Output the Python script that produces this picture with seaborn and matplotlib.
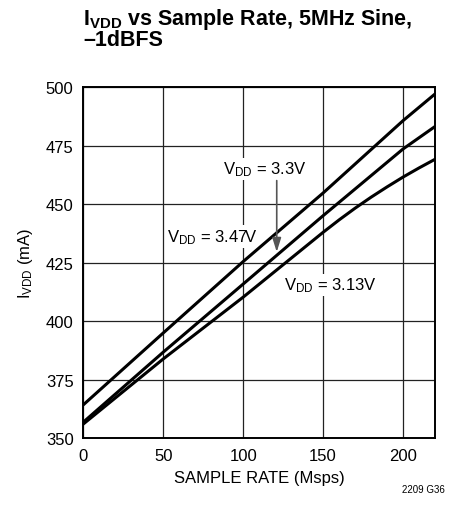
import pandas as pd
import seaborn as sns
import matplotlib
matplotlib.use("Agg")
import matplotlib.pyplot as plt

# 读图估计的数据
rate_347 = [0, 50, 100, 150, 200, 220]
ivdd_347 = [364.3, 395.0, 425.5, 454.8, 485.7, 497.1]

rate_330 = [0, 50, 100, 150, 200, 220]
ivdd_330 = [356.9, 386.8, 415.9, 445.1, 473.6, 483.2]

rate_313 = [0, 50, 100, 150, 160, 170, 180, 190, 200, 210, 220]
ivdd_313 = [356.1, 383.9, 410.3, 438.0, 443.3, 448.3, 453.0, 457.4, 461.6, 465.5, 469.2]

x_ticks = [0, 50, 100, 150, 200]
y_ticks = [350, 375, 400, 425, 450, 475, 500]

df = pd.concat([
    pd.DataFrame({"rate": rate_347, "ivdd": ivdd_347, "vdd": "3.47V"}),
    pd.DataFrame({"rate": rate_330, "ivdd": ivdd_330, "vdd": "3.3V"}),
    pd.DataFrame({"rate": rate_313, "ivdd": ivdd_313, "vdd": "3.13V"}),
])

sns.set_theme(style="white")
plt.rcParams['font.family'] = ['Liberation Sans', 'DejaVu Sans']
plt.rcParams['mathtext.fontset'] = 'custom'
plt.rcParams['mathtext.rm'] = 'Liberation Sans'
plt.rcParams['mathtext.it'] = 'Liberation Sans'
plt.rcParams['mathtext.bf'] = 'Liberation Sans:bold'
plt.rcParams['mathtext.default'] = 'regular'
plt.rcParams['text.color'] = 'black'

fig = plt.figure(figsize=(4.58, 5.10), dpi=100)
ax = fig.add_axes([83.3 / 458, 1 - 439.3 / 510, (435 - 83.3) / 458, (439.3 - 88.2) / 510])

sns.lineplot(data=df, x="rate", y="ivdd", hue="vdd", sort=True,
             palette=["black", "black", "black"], linewidth=2.2, legend=False, ax=ax)

ax.set_xlim(0, 220)
ax.set_ylim(350, 500)
ax.set_xticks(x_ticks)
ax.set_yticks(y_ticks)
ax.grid(True, color="#222222", linewidth=0.9, zorder=0.5)
ax.set_axisbelow(True)
for s in ax.spines.values():
    s.set_color("black")
    s.set_linewidth(1.4)
ax.tick_params(length=0, labelsize=12, pad=7, colors="black")

ax.set_xlabel("SAMPLE RATE (Msps)", fontsize=12, color="black", labelpad=5)
ax.set_ylabel("$I_{VDD}$ (mA)", fontsize=12, color="black", labelpad=8)

# 标注
box = dict(facecolor="white", edgecolor="none", pad=1.5)
ax.text(113.4, 465.1, "$V_{DD}$ = 3.3V", fontsize=12, ha="center", va="center", bbox=box, zorder=1.5)
ax.text(80.7, 436.3, "$V_{DD}$ = 3.47V", fontsize=12, ha="center", va="center", bbox=box, zorder=1.5)
ax.text(154.7, 415.5, "$V_{DD}$ = 3.13V", fontsize=12, ha="center", va="center", bbox=box, zorder=1.5)
ax.annotate("", xy=(121, 429.6), xytext=(121, 460.1),
            arrowprops=dict(arrowstyle="-|>,head_length=0.7,head_width=0.22",
                            color="#555555", lw=1.2, shrinkA=0, shrinkB=0))

fig.text(83 / 458, 1 - 7 / 510, "$\\mathbf{I_{VDD}}$ vs Sample Rate, 5MHz Sine,\n\u20131dBFS",
         fontsize=15.5, fontweight="bold", ha="left", va="top", linespacing=0.9)
fig.text(445 / 458, 1 - 490 / 510, "2209 G36", fontsize=7, ha="right", va="center")

plt.savefig("out.png", dpi=100)
